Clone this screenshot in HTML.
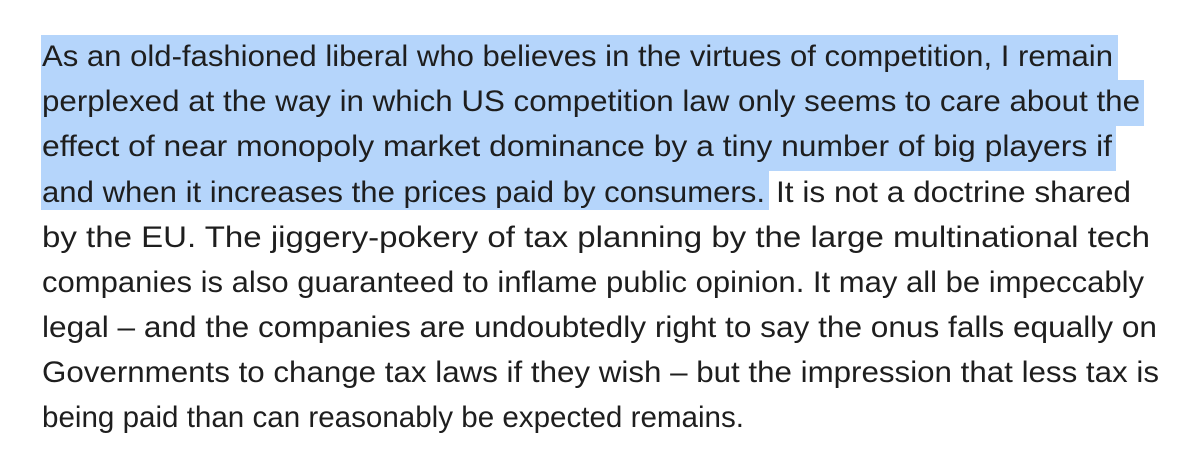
<!DOCTYPE html>
<html><head><meta charset="utf-8"><style>
html,body{margin:0;padding:0;background:#fff;width:1200px;height:464px;overflow:hidden}
svg{display:block}
text{font-family:"Liberation Sans",sans-serif;font-size:30px;fill:#1e1e1e}
</style></head><body>
<svg width="1200" height="464">
<g fill="#b5d5fb">
<rect x="41" y="35" width="1077" height="46"/>
<rect x="41" y="80" width="1103" height="46"/>
<rect x="41" y="125" width="1075" height="46"/>
<rect x="41" y="170" width="728" height="40"/>
</g>
<g>
<text x="42" y="66" textLength="1071" lengthAdjust="spacingAndGlyphs">As an old-fashioned liberal who believes in the virtues of competition, I remain</text>
<text x="42" y="111" textLength="1098" lengthAdjust="spacingAndGlyphs">perplexed at the way in which US competition law only seems to care about the</text>
<text x="42" y="156" textLength="1070" lengthAdjust="spacingAndGlyphs">effect of near monopoly market dominance by a tiny number of big players if</text>
<text x="42" y="202" textLength="723" lengthAdjust="spacingAndGlyphs">and when it increases the prices paid by consumers.</text>
<text x="776" y="202" textLength="355" lengthAdjust="spacingAndGlyphs">It is not a doctrine shared</text>
<text x="42" y="247" textLength="1108" lengthAdjust="spacingAndGlyphs">by the EU. The jiggery-pokery of tax planning by the large multinational tech</text>
<text x="42" y="292" textLength="1102" lengthAdjust="spacingAndGlyphs">companies is also guaranteed to inflame public opinion. It may all be impeccably</text>
<text x="42" y="337" textLength="1115" lengthAdjust="spacingAndGlyphs">legal – and the companies are undoubtedly right to say the onus falls equally on</text>
<text x="42" y="382" textLength="1117" lengthAdjust="spacingAndGlyphs">Governments to change tax laws if they wish – but the impression that less tax is</text>
<text x="42" y="427" textLength="702" lengthAdjust="spacingAndGlyphs">being paid than can reasonably be expected remains.</text>
</g>
</svg>
</body></html>
